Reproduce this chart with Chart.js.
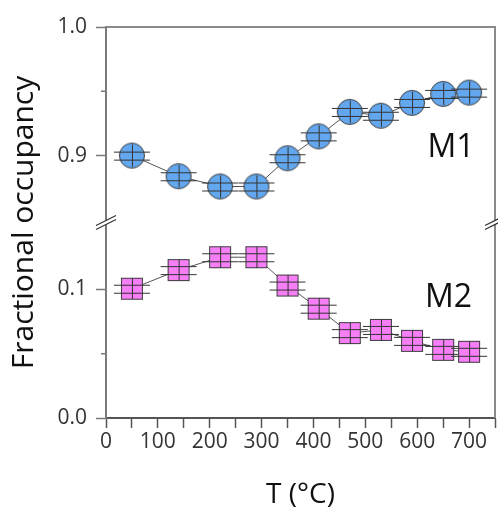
<!DOCTYPE html>
<html>
<head>
<meta charset="utf-8">
<script src="https://cdn.jsdelivr.net/npm/chart.js@4"></script>
<style>
html, body { margin: 0; padding: 0; background: #fff; }
#wrap { width: 498px; height: 512px; }
</style>
</head>
<body>
<div id="wrap"><canvas id="chart"></canvas></div>
<script>
// temperatures (°C) and fractional occupancies
const temps = [50, 140, 220, 290, 350, 410, 470, 530, 590, 650, 700];
const m1 = [0.900, 0.884, 0.876, 0.876, 0.898, 0.915, 0.934, 0.931, 0.941, 0.948, 0.949];
const m2 = [0.1005, 0.115, 0.125, 0.125, 0.103, 0.085, 0.066, 0.0685, 0.060, 0.053, 0.0515];

const xTicks = [0, 50, 100, 150, 200, 250, 300, 350, 400, 450, 500, 550, 600, 650, 700, 750];
const xLabels = [0, 100, 200, 300, 400, 500, 600, 700];
const topTicks = [0.9, 1.0];
const botTicks = [0.0, 0.1];
const topMinor = [0.95];
const botMinor = [0.05];

const font = 'Open Sans';
const axisGrey = '#7a7a7a';

function marker(shape, fill) {
	const c = document.createElement('canvas');
	c.width = 40;
	c.height = 28;
	const g = c.getContext('2d');
	const cx = 20, cy = 14;
	g.fillStyle = fill;
	g.strokeStyle = '#3c3c3c';
	g.lineWidth = 1;
	if (shape === 'circle') {
		g.beginPath();
		g.arc(cx, cy, 12.5, 0, Math.PI * 2);
		g.fill();
		g.stroke();
	} else {
		g.fillRect(cx - 11, cy - 11, 22, 22);
		g.strokeRect(cx - 10.5, cy - 10.5, 21, 21);
	}
	// error-bar caps and centre line
	g.strokeStyle = '#333';
	g.beginPath();
	g.moveTo(2, cy - 3.5); g.lineTo(38, cy - 3.5);
	g.moveTo(2, cy + 4.5); g.lineTo(38, cy + 4.5);
	g.moveTo(cx + 0.5, cy - 11); g.lineTo(cx + 0.5, cy + 11);
	g.stroke();
	return c;
}

const extras = {
	id: 'extras',
	afterDraw(chart) {
		const { ctx, chartArea, scales } = chart;
		const { left, right, top, bottom } = chartArea;
		const yb = (scales.yTop.bottom + scales.yBot.top) / 2;
		ctx.save();
		// frame on top and right
		ctx.strokeStyle = '#8a8a8a';
		ctx.lineWidth = 2;
		ctx.beginPath();
		ctx.moveTo(left, top);
		ctx.lineTo(right, top);
		ctx.lineTo(right, bottom);
		ctx.stroke();
		// short minor ticks
		ctx.strokeStyle = axisGrey;
		ctx.lineWidth = 1.5;
		ctx.beginPath();
		topMinor.forEach(v => {
			const y = scales.yTop.getPixelForValue(v);
			ctx.moveTo(left - 5, y); ctx.lineTo(left, y);
		});
		botMinor.forEach(v => {
			const y = scales.yBot.getPixelForValue(v);
			ctx.moveTo(left - 5, y); ctx.lineTo(left, y);
		});
		ctx.stroke();
		// axis break marks
		[left, right].forEach(x => {
			ctx.fillStyle = '#fff';
			ctx.beginPath();
			ctx.moveTo(x - 10, yb + 7);
			ctx.lineTo(x + 10, yb - 3);
			ctx.lineTo(x + 10, yb - 7);
			ctx.lineTo(x - 10, yb + 3);
			ctx.closePath();
			ctx.fill();
			ctx.strokeStyle = '#333';
			ctx.lineWidth = 1.2;
			ctx.beginPath();
			ctx.moveTo(x - 10, yb + 7); ctx.lineTo(x + 10, yb - 3);
			ctx.moveTo(x - 10, yb + 3); ctx.lineTo(x + 10, yb - 7);
			ctx.stroke();
		});
		// series names
		ctx.fillStyle = '#111';
		ctx.font = '32px "' + font + '"';
		ctx.textAlign = 'left';
		ctx.textBaseline = 'alphabetic';
		ctx.fillText('M1', scales.x.getPixelForValue(620), scales.yTop.getPixelForValue(0.899));
		ctx.fillText('M2', scales.x.getPixelForValue(615), scales.yBot.getPixelForValue(0.086));
		ctx.restore();
	},
};

const tickFont = { family: font, size: 21 };

new Chart(document.getElementById('chart'), {
	type: 'line',
	data: {
		datasets: [
			{
				label: 'M1',
				data: temps.map((t, i) => ({ x: t, y: m1[i] })),
				yAxisID: 'yTop',
				borderColor: '#555',
				borderWidth: 1,
				pointStyle: marker('circle', '#63a7ee'),
				pointRadius: 12,
			},
			{
				label: 'M2',
				data: temps.map((t, i) => ({ x: t, y: m2[i] })),
				yAxisID: 'yBot',
				borderColor: '#555',
				borderWidth: 1,
				pointStyle: marker('square', '#f67ef6'),
				pointRadius: 12,
			},
		],
	},
	plugins: [extras],
	options: {
		responsive: true,
		maintainAspectRatio: false,
		animation: false,
		events: [],
		layout: { autoPadding: false, padding: { top: 27, right: 3, left: 0, bottom: 0 } },
		plugins: { legend: { display: false }, tooltip: { enabled: false } },
		scales: {
			x: {
				type: 'linear',
				min: 0,
				max: 750,
				afterBuildTicks: s => { s.ticks = xTicks.map(v => ({ value: v })); },
				afterFit: s => { s.height = 94; },
				ticks: {
					font: tickFont,
					color: '#333',
					padding: 1,
					maxRotation: 0,
					autoSkip: false,
					callback: v => (xLabels.includes(v) ? String(v) : ''),
				},
				grid: { drawOnChartArea: false, tickLength: 10, tickColor: '#555', tickWidth: 1.5 },
				border: { color: '#555', width: 2 },
				title: {
					display: true,
					text: 'T (°C)',
					font: { family: font, size: 28 },
					color: '#111',
					padding: { top: 0, bottom: 0 },
				},
			},
			// stacked axes are placed in reverse order, so the lower one comes first
			yBot: {
				type: 'linear',
				position: 'left',
				stack: 'y',
				stackWeight: 1,
				min: 0,
				max: 0.152,
				afterBuildTicks: s => { s.ticks = botTicks.map(v => ({ value: v })); },
				afterFit: s => { s.width = 66; },
				ticks: { font: tickFont, color: '#333', padding: 9, callback: v => v.toFixed(1) },
				grid: { drawOnChartArea: false, tickLength: 10, tickColor: axisGrey, tickWidth: 1.5 },
				border: { color: axisGrey, width: 2 },
			},
			yTop: {
				type: 'linear',
				position: 'left',
				stack: 'y',
				stackWeight: 1,
				min: 0.848,
				max: 1.0,
				afterBuildTicks: s => { s.ticks = topTicks.map(v => ({ value: v })); },
				afterFit: s => { s.width = 66; },
				ticks: { font: tickFont, color: '#333', padding: 9, callback: v => v.toFixed(1) },
				grid: { drawOnChartArea: false, tickLength: 10, tickColor: axisGrey, tickWidth: 1.5 },
				border: { color: axisGrey, width: 2 },
			},
			yTitle: {
				type: 'linear',
				position: 'left',
				weight: 10,
				min: 0,
				max: 1,
				afterFit: s => { s.width = 40; },
				ticks: { display: false },
				grid: { display: false },
				border: { display: false },
				title: {
					display: true,
					text: 'Fractional occupancy',
					font: { family: font, size: 30 },
					color: '#111',
					padding: { top: 6, bottom: 0 },
				},
			},
		},
	},
});
</script>
</body>
</html>
